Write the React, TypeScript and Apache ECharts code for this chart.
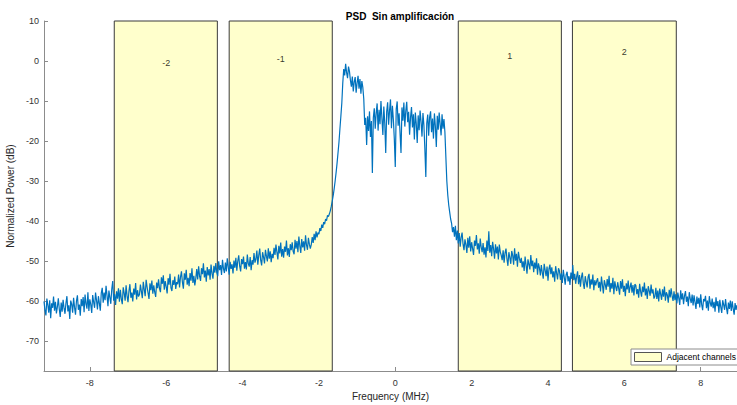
import React, { useEffect, useRef } from 'react';
import * as echarts from 'echarts';

// Frequency grid of the PSD samples (MHz)
const freqStart = -9.2;
const freqStep = 0.025;

// Normalized power (dB), one value per frequency sample
const power: number[] = [
  // -9.200 .. -8.725
  -60.1, -62.3, -63.6, -59.4, -61.0, -62.9, -59.8, -64.3, -60.6, -61.7, -58.9, -62.4, -60.2, -63.1, -61.5, -59.3, -62.0, -64.0, -60.4, -62.7,
  // -8.700 .. -8.225
  -59.7, -61.8, -63.2, -60.5, -58.8, -62.6, -61.1, -64.5, -59.9, -60.8, -62.9, -59.2, -61.6, -63.4, -60.0, -58.6, -62.2, -60.9, -63.7, -59.5,
  // -8.200 .. -7.725
  -61.3, -59.0, -62.8, -58.4, -60.7, -61.9, -57.8, -62.5, -59.6, -60.9, -63.0, -58.5, -60.3, -61.7, -57.9, -59.8, -62.1, -58.8, -60.6, -62.4,
  // -7.700 .. -7.225
  -58.0, -56.7, -60.4, -57.9, -59.8, -56.2, -58.6, -61.3, -57.4, -59.1, -60.7, -57.0, -55.0, -59.9, -58.3, -61.0, -57.6, -59.4, -56.8, -60.2,
  // -7.200 .. -6.725
  -57.2, -59.5, -60.8, -56.6, -58.0, -59.9, -56.1, -58.7, -60.3, -57.5, -55.8, -59.2, -57.9, -60.1, -56.9, -58.4, -55.5, -59.6, -57.3, -58.9,
  // -6.700 .. -6.225
  -58.4, -55.9, -57.6, -59.3, -55.2, -57.1, -58.8, -54.7, -56.5, -58.0, -59.5, -55.6, -57.3, -54.9, -58.2, -56.1, -57.8, -59.0, -55.4, -56.8,
  // -6.200 .. -5.725
  -54.6, -56.9, -57.8, -54.1, -55.7, -53.6, -57.2, -55.0, -56.4, -58.1, -54.3, -55.9, -53.2, -56.7, -57.5, -54.8, -56.0, -53.9, -57.0, -55.3,
  // -5.700 .. -5.225
  -55.8, -53.4, -56.6, -54.0, -52.6, -55.3, -56.9, -53.1, -54.7, -52.2, -55.9, -54.2, -56.3, -53.0, -54.9, -51.8, -55.5, -53.7, -56.1, -54.4,
  // -5.200 .. -4.725
  -52.0, -54.6, -51.3, -53.8, -55.0, -51.8, -53.3, -50.6, -54.1, -52.4, -55.2, -51.5, -53.6, -52.0, -54.7, -50.9, -53.1, -54.4, -51.2, -52.9,
  // -4.700 .. -4.225
  -50.5, -52.9, -53.8, -50.1, -52.3, -51.0, -53.5, -49.7, -51.9, -53.0, -50.4, -52.6, -49.3, -51.5, -53.4, -50.2, -52.0, -50.8, -53.1, -49.9,
  // -4.200 .. -3.725
  -51.7, -49.2, -52.4, -50.0, -48.6, -51.3, -52.6, -49.5, -50.8, -48.9, -51.9, -50.3, -52.1, -48.4, -50.6, -51.4, -49.0, -52.3, -49.8, -50.9,
  // -3.700 .. -3.225
  -48.0, -50.4, -49.5, -47.4, -50.9, -48.6, -46.9, -49.8, -51.1, -47.8, -49.0, -50.6, -47.2, -48.8, -50.1, -46.8, -49.4, -47.6, -50.3, -48.2,
  // -3.200 .. -2.725
  -49.3, -46.7, -48.5, -45.9, -47.8, -49.6, -46.2, -48.1, -45.4, -48.9, -47.0, -49.2, -46.4, -47.7, -44.9, -48.6, -46.8, -49.0, -45.8, -47.3,
  // -2.700 .. -2.225
  -45.3, -47.6, -48.3, -44.7, -46.9, -45.0, -47.8, -43.9, -46.2, -48.0, -44.5, -46.6, -45.1, -47.4, -43.6, -46.0, -47.2, -44.2, -45.8, -46.9,
  // -2.200 .. -1.725
  -45.9, -44.0, -45.5, -43.2, -44.8, -42.6, -44.1, -42.9, -43.3, -41.8, -42.5, -40.9, -41.7, -40.3, -40.8, -39.5, -39.9, -38.6, -38.9, -38.2,
  // -1.700 .. -1.225
  -37.4, -36.3, -35.0, -33.6, -31.9, -30.0, -27.9, -25.6, -23.0, -20.3, -17.0, -13.8, -10.5, -5.5, -2.0, -3.6, -0.7, -2.9, -4.3, -1.4,
  // -1.200 .. -0.725
  -2.6, -4.8, -6.4, -3.9, -7.6, -5.2, -4.0, -7.9, -5.5, -3.7, -6.9, -4.5, -8.2, -5.0, -6.6, -9.5, -16.0, -14.2, -21.0, -13.8,
  // -0.700 .. -0.225
  -17.5, -12.6, -19.0, -15.0, -28.0, -14.2, -11.8, -16.9, -13.0, -10.6, -17.4, -12.2, -15.8, -10.0, -14.3, -18.5, -11.4, -15.6, -23.0, -12.7,
  // -0.200 .. 0.275
  -10.3, -15.9, -12.4, -9.6, -16.8, -11.2, -14.7, -19.5, -26.5, -12.0, -10.1, -16.2, -13.1, -18.0, -23.0, -11.6, -14.9, -10.4, -16.4, -12.5,
  // 0.300 .. 0.775
  -10.2, -15.3, -12.7, -18.4, -14.1, -11.5, -16.6, -13.3, -19.6, -12.9, -15.7, -20.5, -13.6, -17.3, -12.4, -15.2, -18.9, -13.0, -16.1, -22.0,
  // 0.800 .. 1.275
  -29.0, -15.5, -13.4, -18.7, -14.0, -12.6, -17.8, -14.4, -19.4, -13.1, -16.3, -21.5, -13.7, -17.2, -12.9, -15.8, -18.6, -13.3, -16.9, -14.5,
  // 1.300 .. 1.775
  -17.8, -24.0, -30.0, -33.5, -36.0, -37.8, -39.5, -40.6, -42.8, -41.5, -43.9, -41.2, -44.8, -42.4, -45.6, -43.0, -46.4, -44.1, -42.9, -45.8,
  // 1.800 .. 2.275
  -47.3, -44.6, -45.9, -48.0, -44.2, -46.7, -43.8, -47.6, -45.3, -46.9, -48.5, -44.9, -46.2, -43.5, -47.1, -45.6, -48.2, -44.4, -46.5, -47.8,
  // 2.300 .. 2.775
  -45.5, -48.4, -46.6, -49.1, -44.9, -47.5, -42.6, -47.9, -46.0, -48.8, -45.2, -47.0, -49.4, -45.8, -48.1, -46.4, -49.6, -45.9, -47.7, -48.6,
  // 2.800 .. 3.275
  -49.8, -47.3, -50.4, -48.0, -46.9, -49.5, -51.2, -47.8, -49.1, -50.7, -47.5, -48.6, -50.9, -46.8, -49.9, -48.2, -51.4, -47.7, -49.3, -50.5,
  // 3.300 .. 3.775
  -49.2, -51.6, -50.1, -52.5, -48.9, -51.0, -53.2, -49.6, -50.8, -52.1, -48.5, -51.3, -49.9, -52.8, -50.4, -51.9, -49.3, -53.4, -50.6, -51.7,
  // 3.800 .. 4.275
  -53.6, -51.0, -52.9, -54.4, -50.7, -52.3, -53.8, -51.4, -54.9, -52.0, -50.9, -53.3, -51.6, -54.1, -52.6, -55.2, -51.3, -53.0, -54.6, -51.8,
  // 4.300 .. 4.775
  -52.5, -54.7, -53.1, -55.5, -52.2, -54.0, -55.9, -53.4, -52.7, -55.1, -53.8, -56.0, -52.9, -54.5, -51.0, -54.8, -53.2, -55.7, -53.9, -52.6,
  // 4.800 .. 5.275
  -55.8, -53.5, -56.4, -54.1, -52.9, -55.6, -57.0, -53.8, -55.2, -56.6, -54.0, -53.2, -56.9, -54.6, -55.9, -53.4, -57.3, -54.8, -56.1, -55.0,
  // 5.300 .. 5.775
  -54.3, -56.7, -55.2, -57.6, -53.9, -56.0, -58.1, -54.8, -55.9, -57.2, -54.5, -56.4, -53.7, -57.8, -55.5, -56.9, -54.2, -58.3, -55.1, -56.5,
  // 5.800 .. 6.275
  -57.5, -55.3, -56.8, -58.4, -55.0, -56.9, -54.6, -57.7, -56.2, -58.8, -55.6, -57.1, -54.9, -58.0, -56.5, -55.4, -57.9, -56.0, -58.6, -55.8,
  // 6.300 .. 6.775
  -56.1, -58.3, -57.0, -59.2, -55.7, -57.6, -58.9, -56.4, -57.8, -55.4, -58.6, -56.9, -59.5, -56.3, -57.4, -58.7, -55.9, -58.1, -57.1, -59.4,
  // 6.800 .. 7.275
  -58.8, -56.7, -59.5, -57.4, -60.1, -56.9, -58.3, -59.7, -57.1, -58.9, -56.4, -59.9, -57.8, -58.5, -60.4, -57.2, -59.1, -56.8, -58.7, -60.0,
  // 7.300 .. 7.775
  -57.6, -59.8, -58.3, -60.6, -57.9, -59.2, -61.0, -57.3, -59.6, -58.1, -60.8, -58.7, -57.5, -60.2, -58.9, -61.3, -57.8, -59.4, -60.5, -58.4,
  // 7.800 .. 8.275
  -61.1, -58.6, -60.3, -62.0, -58.9, -60.7, -59.2, -61.6, -58.3, -60.9, -62.3, -59.5, -60.1, -58.7, -61.8, -59.9, -62.4, -58.8, -60.5, -61.4,
  // 8.300 .. 8.775
  -59.4, -61.8, -60.2, -62.7, -59.1, -61.3, -60.0, -62.9, -59.7, -61.5, -63.0, -59.8, -60.9, -62.2, -59.5, -61.7, -63.3, -60.4, -62.0, -59.9,
  // 8.800 .. 8.950
  -62.5, -60.1, -61.9, -63.4, -60.5, -62.2, -61.0,
];

// Adjacent channels (MHz)
const channelNames = ['-2', '-1', '1', '2'];
const channelStart = [-7.36, -4.35, 1.65, 4.64];
const channelEnd = [-4.66, -1.65, 4.35, 7.36];
const channelLabelX = [-6, -3, 3, 6];
const channelLabelY = [-0.6, 0.4, 1.3, 2.3];

// Axis ticks
const xTicks = [-8, -6, -4, -2, 0, 2, 4, 6, 8];
const yTicks = [-70, -60, -50, -40, -30, -20, -10, 0, 10];

const FONT = '"Liberation Sans", Arial, Helvetica, sans-serif';
const AXIS_COLOR = '#8c8c8c';

export default function App() {
  const ref = useRef<HTMLDivElement>(null);

  useEffect(() => {
    if (!ref.current) return;
    const chart = echarts.init(ref.current, null, { renderer: 'svg' });
    const lineData = power.map((p, i) => [Number((freqStart + i * freqStep).toFixed(3)), p]);

    chart.setOption({
      animation: false,
      backgroundColor: '#ffffff',
      textStyle: { fontFamily: FONT },
      title: {
        text: 'PSD  Sin amplificación',
        left: 395,
        top: 6,
        textAlign: 'center',
        textStyle: { fontSize: 10, fontWeight: 'bold', color: '#000', fontFamily: FONT },
      },
      grid: { left: 44, right: 0, top: 21, bottom: 34, containLabel: false, outerBoundsMode: 'none' },
      legend: {
        data: [
          {
            name: 'Adjacent channels',
            icon: 'rect',
            itemStyle: { color: '#FFFFCC', borderColor: '#555', borderWidth: 1 },
          },
        ],
        left: 631,
        top: 349,
        orient: 'horizontal',
        itemWidth: 27,
        itemHeight: 9,
        padding: [3, 2, 3, 3],
        borderColor: AXIS_COLOR,
        borderWidth: 1,
        backgroundColor: '#fff',
        selectedMode: false,
        textStyle: { fontSize: 8.5, color: '#000', fontFamily: FONT },
      },
      xAxis: {
        type: 'value',
        min: -9.2,
        max: 8.95,
        name: 'Frequency (MHz)',
        nameLocation: 'middle',
        nameGap: 20,
        nameTextStyle: { fontSize: 10, color: '#262626', fontFamily: FONT },
        axisLine: { show: true, onZero: false, lineStyle: { color: AXIS_COLOR } },
        axisTick: { show: true, inside: true, length: 4, customValues: xTicks, lineStyle: { color: AXIS_COLOR } },
        axisLabel: { customValues: xTicks, fontSize: 9, color: '#333', margin: 7, fontFamily: FONT },
        splitLine: { show: false },
      },
      yAxis: {
        type: 'value',
        min: -77.5,
        max: 10,
        name: 'Normalized Power (dB)',
        nameLocation: 'middle',
        nameGap: 16,
        nameRotate: 90,
        nameTextStyle: { fontSize: 10, color: '#262626', fontFamily: FONT },
        axisLine: { show: true, onZero: false, lineStyle: { color: AXIS_COLOR } },
        axisTick: { show: true, inside: true, length: 4, customValues: yTicks, lineStyle: { color: AXIS_COLOR } },
        axisLabel: { customValues: yTicks, fontSize: 9, color: '#333', margin: 5, fontFamily: FONT },
        splitLine: { show: false },
      },
      series: [
        {
          type: 'line',
          name: 'Adjacent channels',
          data: [],
          color: '#FFFFCC',
          z: 1,
          markArea: {
            silent: true,
            itemStyle: { color: '#FFFFCC', borderColor: '#3a3a3a', borderWidth: 1 },
            data: channelStart.map((s, i) => [{ xAxis: s }, { xAxis: channelEnd[i] }]),
          },
        },
        {
          type: 'line',
          name: 'PSD',
          data: lineData,
          showSymbol: false,
          symbol: 'none',
          lineStyle: { color: '#0072BD', width: 1.2 },
          color: '#0072BD',
          z: 3,
        },
        {
          type: 'scatter',
          name: 'labels',
          data: channelNames.map((n, i) => ({ name: n, value: [channelLabelX[i], channelLabelY[i]] })),
          symbolSize: 0,
          z: 4,
          label: {
            show: true,
            formatter: '{b}',
            position: 'inside',
            color: '#000',
            fontSize: 9,
            fontFamily: FONT,
          },
        },
      ],
    });

    return () => chart.dispose();
  }, []);

  return (
    <div
      ref={ref}
      style={{ position: 'absolute', left: 0, top: 0, width: 737, height: 405 }}
    />
  );
}
